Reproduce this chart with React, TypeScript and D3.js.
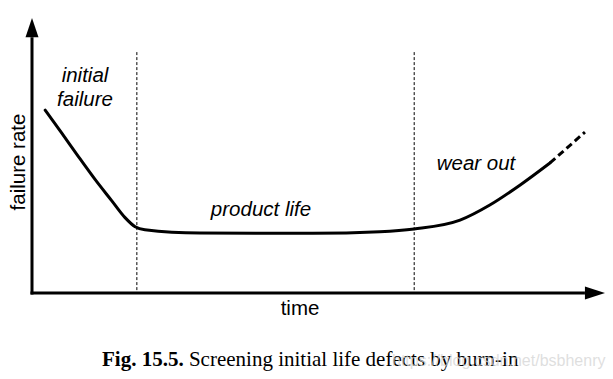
import React from "react";
import * as d3 from "d3";

// Curve: time (0-100) vs failure rate (0-100)
const solidTime = [2.3, 5.2, 8.1, 11.0, 13.9, 16.2, 18.0, 19.7, 29.3, 49.0, 60.7, 66.7, 74.7, 79.9, 85.2, 90.4];
const solidRate = [66.5, 58.1, 49.6, 41.3, 33.6, 27.5, 24.1, 23.0, 21.8, 21.7, 22.3, 23.3, 26.5, 32.0, 39.3, 47.3];
const dashedTime = [90.4, 96.5];
const dashedRate = [47.3, 58.5];
const phaseBoundaries = [18.3, 66.7];
const boundaryTop = 87.6;

const phaseLabels = ["initial", "failure", "product life", "wear out"];
const axisLabels = ["time", "failure rate"];
const captionBold = "Fig. 15.5.";
const captionText = " Screening initial life defects by burn-in";
const watermark = "https://blog.csdn.net/bsbhenry";

const W = 613;
const H = 379;

export default function App() {
  const x = d3.scaleLinear().domain([0, 100]).range([32, 605]);
  const y = d3.scaleLinear().domain([0, 100]).range([293, 18]);
  const line = d3
    .line<[number, number]>()
    .x((d) => x(d[0]))
    .y((d) => y(d[1]))
    .curve(d3.curveMonotoneX);
  const solid = solidTime.map((t, i) => [t, solidRate[i]] as [number, number]);
  const dashed = dashedTime.map((t, i) => [t, dashedRate[i]] as [number, number]);

  const sans = "Liberation Sans, Arial, sans-serif";
  const serif = "Liberation Serif, Times New Roman, serif";

  return (
    <div style={{ position: "absolute", left: 0, top: 0 }}>
      <svg width={W} height={H} viewBox={`0 0 ${W} ${H}`} style={{ display: "block", background: "#fff" }}>
        {/* boundaries */}
        {phaseBoundaries.map((b, i) => (
          <line
            key={i}
            x1={x(b)}
            x2={x(b)}
            y1={y(boundaryTop)}
            y2={y(0)}
            stroke="#000"
            strokeWidth={1}
            strokeDasharray="3,2"
          />
        ))}
        {/* axes */}
        <line x1={x(0)} x2={x(0)} y1={y(0) + 1.5} y2={y(93)} stroke="#000" strokeWidth={3} />
        <path d={`M${x(0)},${y(100)} L${x(0) - 6.5},${y(93)} L${x(0) + 6.5},${y(93)} Z`} fill="#000" />
        <line x1={x(0) - 1.5} x2={x(96.5)} y1={y(0)} y2={y(0)} stroke="#000" strokeWidth={3} />
        <path d={`M${x(100)},${y(0)} L${x(96.5)},${y(0) - 6.5} L${x(96.5)},${y(0) + 6.5} Z`} fill="#000" />

        {/* curve */}
        <path d={line(solid) || ""} fill="none" stroke="#000" strokeWidth={3} strokeLinecap="round" />
        <path d={line(dashed) || ""} fill="none" stroke="#000" strokeWidth={3} strokeDasharray="7,4" />

        {/* labels */}
        <g fontFamily={sans} fontStyle="italic" fontSize={20.5} fill="#000">
          <text x={85} y={82} textAnchor="middle">{phaseLabels[0]}</text>
          <text x={85} y={106} textAnchor="middle">{phaseLabels[1]}</text>
          <text x={261} y={216} textAnchor="middle">{phaseLabels[2]}</text>
          <text x={476} y={170} textAnchor="middle">{phaseLabels[3]}</text>
        </g>
        <text x={300} y={315} textAnchor="middle" fontFamily={sans} fontSize={20.5}>
          {axisLabels[0]}
        </text>
        <text
          transform={`translate(25,162) rotate(-90)`}
          textAnchor="middle"
          fontFamily={sans}
          fontSize={20.5}
        >
          {axisLabels[1]}
        </text>

        {/* caption */}
        <text x={102} y={366} fontFamily={serif} fontSize={21} fill="#000">
          <tspan fontWeight="bold">{captionBold}</tspan>
          <tspan>{captionText}</tspan>
        </text>
        <text x={392} y={366} fontFamily={sans} fontSize={16} fill="#d4d4d4" fillOpacity={0.75}>
          {watermark}
        </text>
      </svg>
    </div>
  );
}
